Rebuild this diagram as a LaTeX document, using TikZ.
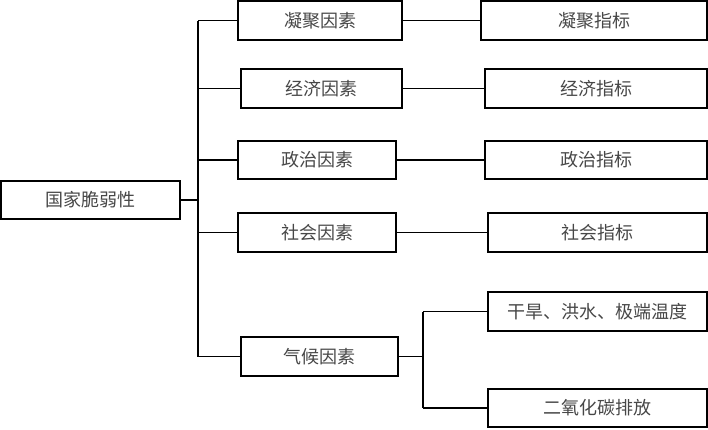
\documentclass[tikz,border=0pt]{standalone}
\usepackage{fontspec}
\newfontfamily\cjk{Noto Sans CJK SC}
\begin{document}
\begin{tikzpicture}[x=1pt,y=-1pt,
  boxnode/.style={draw=black,line width=1.1pt,inner sep=0pt,minimum height=39pt,font=\cjk\fontsize{18}{20}\selectfont,text=black!72},
  link/.style={draw=black,line width=1.1pt}]
\useasboundingbox (0,0) rectangle (708,429);
\node[boxnode,minimum width=179pt,minimum height=38pt] (root) at (90.5,200) {国家脆弱性};
\node[boxnode,minimum width=164pt] (b1) at (320,20.5) {凝聚因素};
\node[boxnode,minimum width=161pt] (b2) at (321.5,88.5) {经济因素};
\node[boxnode,minimum width=158pt,minimum height=38pt] (b3) at (317,160) {政治因素};
\node[boxnode,minimum width=158pt] (b4) at (317,232.5) {社会因素};
\node[boxnode,minimum width=157pt] (b5) at (319.5,356.5) {气候因素};
\node[boxnode,minimum width=226pt] (i1) at (594,20.5) {凝聚指标};
\node[boxnode,minimum width=222pt] (i2) at (596,88.5) {经济指标};
\node[boxnode,minimum width=222pt,minimum height=38pt] (i3) at (596,160) {政治指标};
\node[boxnode,minimum width=219pt] (i4) at (597.5,232.5) {社会指标};
\node[boxnode,minimum width=219pt] (i5) at (597.5,311.5) {干旱、洪水、极端温度};
\node[boxnode,minimum width=219pt,minimum height=38pt] (i6) at (597.5,408) {二氧化碳排放};
\coordinate (s0) at (198,200);
\coordinate (s1) at (198,20.5);
\coordinate (s2) at (198,88.5);
\coordinate (s3) at (198,160);
\coordinate (s4) at (198,232.5);
\coordinate (s5) at (198,356.5);
\coordinate (t0) at (423,356.5);
\coordinate (t1) at (423,311.5);
\coordinate (t2) at (423,408);
\draw[link] (root.east) -- (s0);
\draw[link] (s1) -- (s5);
\draw[link] (s1) -- (b1.west);
\draw[link] (s2) -- (b2.west);
\draw[link] (s3) -- (b3.west);
\draw[link] (s4) -- (b4.west);
\draw[link] (s5) -- (b5.west);
\draw[link] (b1.east) -- (i1.west);
\draw[link] (b2.east) -- (i2.west);
\draw[link] (b3.east) -- (i3.west);
\draw[link] (b4.east) -- (i4.west);
\draw[link] (b5.east) -- (t0);
\draw[link] (t1) -- (t2);
\draw[link] (t1) -- (i5.west);
\draw[link] (t2) -- (i6.west);
\end{tikzpicture}
\end{document}
